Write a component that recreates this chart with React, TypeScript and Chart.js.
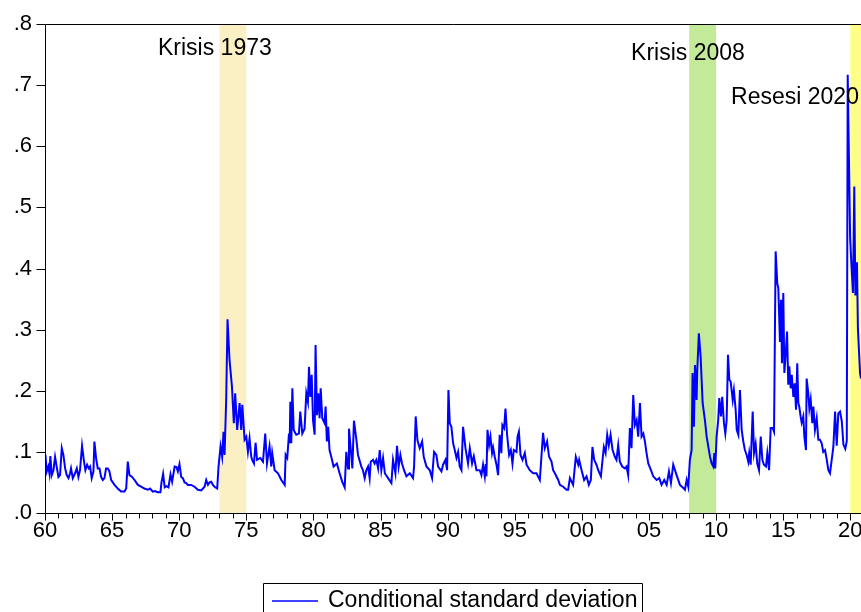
import React, { useEffect, useRef } from "react";
import { Chart, registerables } from "chart.js";

Chart.register(...registerables);

type P = [number, number];

// Conditional standard deviation (year, value)
const s1960: P[] = [
  [1960.03, 0.095], [1960.13, 0.068], [1960.25, 0.076], [1960.33, 0.065], [1960.4, 0.093], [1960.5, 0.062],
  [1960.63, 0.07], [1960.75, 0.092], [1960.87, 0.076], [1961.0, 0.059], [1961.12, 0.062], [1961.25, 0.106],
  [1961.37, 0.095], [1961.5, 0.073], [1961.62, 0.062], [1961.75, 0.057], [1961.87, 0.065], [1961.94, 0.073],
  [1962.07, 0.057], [1962.24, 0.065], [1962.37, 0.073], [1962.49, 0.059], [1962.61, 0.07], [1962.76, 0.11],
  [1962.89, 0.087], [1963.01, 0.07], [1963.14, 0.079], [1963.26, 0.073], [1963.36, 0.076], [1963.48, 0.057],
  [1963.61, 0.068], [1963.68, 0.117], [1963.81, 0.089], [1963.93, 0.073], [1964.06, 0.073], [1964.18, 0.059],
  [1964.31, 0.054], [1964.43, 0.057], [1964.55, 0.073], [1964.68, 0.073], [1964.8, 0.068], [1964.93, 0.054],
  [1965.18, 0.046], [1965.42, 0.04], [1965.67, 0.035], [1965.92, 0.035], [1966.05, 0.04], [1966.17, 0.084],
  [1966.29, 0.062], [1966.49, 0.059], [1966.67, 0.054], [1966.92, 0.046], [1967.16, 0.043], [1967.41, 0.04],
  [1967.66, 0.038], [1967.83, 0.04], [1968.03, 0.035], [1968.2, 0.036], [1968.4, 0.034], [1968.6, 0.034],
  [1968.68, 0.05], [1968.8, 0.064], [1968.92, 0.042], [1969.05, 0.044], [1969.2, 0.042], [1969.35, 0.063],
  [1969.47, 0.051], [1969.66, 0.076], [1969.8, 0.075], [1969.9, 0.068],
];

const s1970: P[] = [
  [1970.02, 0.08], [1970.15, 0.059], [1970.27, 0.057], [1970.4, 0.05], [1970.52, 0.049], [1970.64, 0.046],
  [1970.89, 0.046], [1971.14, 0.043], [1971.39, 0.038], [1971.64, 0.037], [1971.89, 0.043], [1972.01, 0.054],
  [1972.14, 0.046], [1972.26, 0.05], [1972.39, 0.051], [1972.51, 0.046], [1972.63, 0.043], [1972.83, 0.04],
  [1972.93, 0.076], [1973.08, 0.109], [1973.2, 0.092], [1973.3, 0.133], [1973.38, 0.095], [1973.5, 0.185],
  [1973.6, 0.317], [1973.75, 0.25], [1973.93, 0.207], [1974.07, 0.147], [1974.17, 0.196], [1974.32, 0.136],
  [1974.5, 0.18], [1974.62, 0.136], [1974.7, 0.177], [1974.87, 0.12], [1975.0, 0.125], [1975.12, 0.1],
  [1975.24, 0.122], [1975.37, 0.092], [1975.44, 0.087], [1975.57, 0.081], [1975.69, 0.115], [1975.8, 0.087],
  [1975.87, 0.087], [1976.04, 0.09], [1976.24, 0.084], [1976.41, 0.13], [1976.54, 0.081], [1976.73, 0.109],
  [1976.86, 0.076], [1976.93, 0.098], [1977.11, 0.07], [1977.36, 0.065], [1977.61, 0.054], [1977.86, 0.046],
  [1977.93, 0.095], [1978.05, 0.09], [1978.18, 0.13], [1978.23, 0.114], [1978.28, 0.182], [1978.35, 0.114],
  [1978.43, 0.204], [1978.53, 0.136], [1978.72, 0.128], [1978.92, 0.13], [1979.02, 0.166], [1979.17, 0.13],
  [1979.34, 0.138], [1979.47, 0.196], [1979.59, 0.182], [1979.67, 0.239], [1979.77, 0.19], [1979.87, 0.226],
  [1979.97, 0.152],
];

const s1980: P[] = [
  [1980.09, 0.128], [1980.16, 0.275], [1980.26, 0.16], [1980.36, 0.196], [1980.46, 0.155], [1980.54, 0.204],
  [1980.66, 0.155], [1980.83, 0.147], [1980.91, 0.174], [1981.0, 0.117], [1981.1, 0.141], [1981.2, 0.103],
  [1981.33, 0.092], [1981.5, 0.076], [1981.65, 0.079], [1981.75, 0.081], [1981.95, 0.065], [1982.15, 0.051],
  [1982.33, 0.042], [1982.45, 0.1], [1982.58, 0.073], [1982.65, 0.138], [1982.83, 0.092], [1982.9, 0.073],
  [1983.02, 0.151], [1983.2, 0.12], [1983.32, 0.095], [1983.45, 0.085], [1983.57, 0.076], [1983.69, 0.07],
  [1983.82, 0.057], [1983.94, 0.07], [1984.07, 0.076], [1984.19, 0.057], [1984.27, 0.084], [1984.44, 0.087],
  [1984.56, 0.081], [1984.69, 0.087], [1984.82, 0.073], [1984.94, 0.103], [1985.06, 0.07], [1985.19, 0.09],
  [1985.32, 0.065], [1985.56, 0.057], [1985.81, 0.049], [1985.93, 0.087], [1986.11, 0.065], [1986.23, 0.11],
  [1986.35, 0.076], [1986.48, 0.095], [1986.6, 0.081], [1986.75, 0.07], [1986.93, 0.06], [1987.18, 0.065],
  [1987.42, 0.057], [1987.5, 0.076], [1987.62, 0.158], [1987.75, 0.119], [1987.92, 0.106], [1988.1, 0.117],
  [1988.22, 0.092], [1988.42, 0.076], [1988.67, 0.07], [1988.84, 0.057], [1988.99, 0.1], [1989.16, 0.095],
  [1989.29, 0.076], [1989.54, 0.068], [1989.66, 0.079], [1989.84, 0.087], [1989.96, 0.07],
];

const s1990: P[] = [
  [1990.06, 0.201], [1990.16, 0.147], [1990.28, 0.141], [1990.41, 0.114], [1990.53, 0.103], [1990.66, 0.09],
  [1990.78, 0.1], [1990.9, 0.076], [1991.03, 0.07], [1991.15, 0.141], [1991.33, 0.106], [1991.52, 0.081],
  [1991.65, 0.106], [1991.82, 0.081], [1991.95, 0.093], [1992.15, 0.07], [1992.39, 0.07], [1992.52, 0.062],
  [1992.64, 0.079], [1992.77, 0.06], [1992.84, 0.08], [1992.89, 0.06], [1992.97, 0.136], [1993.09, 0.111],
  [1993.19, 0.125], [1993.31, 0.098], [1993.39, 0.107], [1993.51, 0.092], [1993.64, 0.079], [1993.76, 0.062],
  [1993.88, 0.128], [1994.0, 0.098], [1994.08, 0.144], [1994.21, 0.139], [1994.31, 0.171], [1994.43, 0.128],
  [1994.58, 0.095], [1994.71, 0.103], [1994.83, 0.081], [1994.93, 0.103], [1995.13, 0.1], [1995.21, 0.125],
  [1995.31, 0.133], [1995.43, 0.095], [1995.58, 0.087], [1995.75, 0.098], [1995.88, 0.079], [1996.12, 0.07],
  [1996.37, 0.065], [1996.62, 0.065], [1996.87, 0.054], [1997.11, 0.131], [1997.24, 0.106], [1997.41, 0.117],
  [1997.56, 0.092], [1997.74, 0.084], [1997.86, 0.07], [1997.99, 0.065], [1998.24, 0.054], [1998.36, 0.046],
  [1998.61, 0.043], [1998.86, 0.038], [1998.98, 0.038], [1999.11, 0.057], [1999.35, 0.046], [1999.55, 0.092],
  [1999.73, 0.079], [1999.8, 0.087], [1999.98, 0.07],
];

const s2000: P[] = [
  [2000.17, 0.054], [2000.35, 0.06], [2000.52, 0.046], [2000.67, 0.054], [2000.79, 0.108], [2000.92, 0.087],
  [2001.09, 0.079], [2001.22, 0.07], [2001.42, 0.06], [2001.64, 0.108], [2001.77, 0.098], [2001.89, 0.128],
  [2002.01, 0.111], [2002.14, 0.128], [2002.29, 0.103], [2002.46, 0.092], [2002.58, 0.087], [2002.71, 0.111],
  [2002.83, 0.084], [2003.01, 0.076], [2003.21, 0.073], [2003.33, 0.076], [2003.45, 0.062], [2003.58, 0.139],
  [2003.7, 0.106], [2003.83, 0.193], [2003.95, 0.144], [2004.08, 0.152], [2004.2, 0.125], [2004.33, 0.18],
  [2004.45, 0.125], [2004.58, 0.13], [2004.7, 0.117], [2004.82, 0.098], [2004.95, 0.081], [2005.15, 0.07],
  [2005.32, 0.06], [2005.57, 0.054], [2005.77, 0.057], [2005.94, 0.046], [2006.14, 0.054], [2006.32, 0.046],
  [2006.49, 0.068], [2006.64, 0.049], [2006.81, 0.079], [2007.06, 0.062], [2007.31, 0.046], [2007.56, 0.041],
  [2007.68, 0.038], [2007.81, 0.054], [2007.93, 0.043], [2008.05, 0.087], [2008.18, 0.103], [2008.25, 0.229],
  [2008.35, 0.141], [2008.43, 0.242], [2008.55, 0.185], [2008.6, 0.234], [2008.72, 0.294], [2008.85, 0.256],
  [2009.0, 0.18], [2009.17, 0.152], [2009.3, 0.125], [2009.42, 0.109], [2009.55, 0.092], [2009.67, 0.081],
  [2009.79, 0.076], [2009.87, 0.098], [2009.94, 0.073],
];

const s2010: P[] = [
  [2010.04, 0.125], [2010.16, 0.152], [2010.24, 0.188], [2010.37, 0.158], [2010.46, 0.19], [2010.59, 0.147],
  [2010.69, 0.13], [2010.79, 0.152], [2010.89, 0.259], [2010.99, 0.218], [2011.09, 0.215], [2011.24, 0.185],
  [2011.33, 0.201], [2011.46, 0.169], [2011.54, 0.136], [2011.66, 0.128], [2011.78, 0.201], [2011.91, 0.136],
  [2012.03, 0.117], [2012.15, 0.103], [2012.28, 0.095], [2012.4, 0.084], [2012.47, 0.098], [2012.58, 0.079],
  [2012.73, 0.166], [2012.83, 0.098], [2012.95, 0.113], [2013.07, 0.081], [2013.2, 0.07], [2013.33, 0.125],
  [2013.45, 0.087], [2013.57, 0.079], [2013.72, 0.076], [2013.82, 0.098], [2013.95, 0.07], [2014.07, 0.139],
  [2014.22, 0.139], [2014.32, 0.133], [2014.44, 0.428], [2014.56, 0.376], [2014.64, 0.368], [2014.76, 0.28],
  [2014.84, 0.349], [2014.91, 0.245], [2015.01, 0.36], [2015.09, 0.229], [2015.21, 0.267], [2015.29, 0.297],
  [2015.38, 0.21], [2015.46, 0.24], [2015.56, 0.204], [2015.64, 0.226], [2015.76, 0.19], [2015.86, 0.212],
  [2015.96, 0.169], [2016.05, 0.245], [2016.13, 0.18], [2016.2, 0.174], [2016.3, 0.158], [2016.38, 0.148],
  [2016.5, 0.158], [2016.58, 0.125], [2016.7, 0.103], [2016.75, 0.22], [2016.87, 0.196], [2016.95, 0.171],
  [2017.05, 0.186], [2017.17, 0.147], [2017.25, 0.174], [2017.37, 0.136], [2017.5, 0.155], [2017.62, 0.12],
  [2017.74, 0.12], [2017.87, 0.114], [2017.99, 0.1], [2018.12, 0.103], [2018.25, 0.087], [2018.37, 0.07],
  [2018.49, 0.065], [2018.74, 0.108], [2018.87, 0.166], [2018.99, 0.11], [2019.11, 0.163], [2019.24, 0.166],
  [2019.37, 0.15], [2019.49, 0.112], [2019.63, 0.105], [2019.74, 0.118], [2019.81, 0.717], [2019.99, 0.45],
];

const s2020: P[] = [
  [2020.1, 0.4], [2020.2, 0.36], [2020.3, 0.534], [2020.38, 0.356], [2020.5, 0.41], [2020.57, 0.302],
  [2020.73, 0.229], [2020.8, 0.22],
];

const seriesLabel = "Conditional standard deviation";

const crisisBands = [
  { from: 1973, to: 1975, color: "#FBF0C4" },
  { from: 2008, to: 2010, color: "#C3EA98" },
  { from: 2020, to: 2021, color: "#FFFF88" },
];

const crisisLabels = [
  { text: "Krisis 1973", year: 1968.42, value: 0.76 },
  { text: "Krisis 2008", year: 2003.67, value: 0.752 },
  { text: "Resesi 2020", year: 2011.12, value: 0.68 },
];

const xMin = 1960;
const xMax = 2020.8;
const yMin = 0;
const yMax = 0.8;

const FONT = '"Liberation Sans", Arial, sans-serif';

const decorPlugin = {
  id: "decor",
  beforeDatasetsDraw(chart: any) {
    const { ctx, chartArea: a, scales } = chart;
    const x = scales.x;
    ctx.save();
    for (const b of crisisBands) {
      const x0 = x.getPixelForValue(b.from);
      const x1 = Math.min(x.getPixelForValue(b.to), a.right);
      ctx.fillStyle = b.color;
      ctx.fillRect(x0, a.top, x1 - x0, a.bottom - a.top);
    }
    ctx.restore();
  },
  afterDatasetsDraw(chart: any) {
    const { ctx, chartArea: a, scales } = chart;
    const x = scales.x;
    const y = scales.y;
    ctx.save();
    ctx.fillStyle = "#000";
    ctx.font = `23px ${FONT}`;
    ctx.textBaseline = "middle";
    ctx.textAlign = "left";
    for (const l of crisisLabels) {
      ctx.fillText(l.text, x.getPixelForValue(l.year), y.getPixelForValue(l.value));
    }
    ctx.strokeStyle = "#000";
    ctx.lineWidth = 1;
    ctx.beginPath();
    const L = Math.round(a.left) + 0.5;
    const B = Math.round(a.bottom) + 0.5;
    const T = Math.round(a.top) + 0.5;
    ctx.moveTo(L, T);
    ctx.lineTo(L, B);
    ctx.lineTo(a.right + 1, B);
    ctx.moveTo(L, T);
    ctx.lineTo(a.right + 1, T);
    for (let i = 0; i <= 8; i++) {
      const py = Math.round(y.getPixelForValue(i / 10)) + 0.5;
      ctx.moveTo(L - 9, py);
      ctx.lineTo(L, py);
    }
    for (let yr = 1960; yr <= 2020; yr++) {
      const px = Math.round(x.getPixelForValue(yr)) + 0.5;
      const len = yr % 5 === 0 ? 7 : 5;
      ctx.moveTo(px, B);
      ctx.lineTo(px, B + len);
    }
    ctx.stroke();

    ctx.beginPath();
    ctx.rect(263.5, 583.5, 379, 40);
    ctx.stroke();
    ctx.strokeStyle = "#0000FF";
    ctx.lineWidth = 1.5;
    ctx.beginPath();
    ctx.moveTo(272, 601);
    ctx.lineTo(318, 601);
    ctx.stroke();
    ctx.fillStyle = "#000";
    ctx.font = `23px ${FONT}`;
    ctx.textBaseline = "middle";
    ctx.fillText(seriesLabel, 328, 601);
    ctx.restore();
  },
};

export default function App() {
  const ref = useRef<HTMLCanvasElement | null>(null);

  useEffect(() => {
    if (!ref.current) return;
    const points = [...s1960, ...s1970, ...s1980, ...s1990, ...s2000, ...s2010, ...s2020].map(
      ([x, y]) => ({ x, y })
    );
    const chart = new Chart(ref.current, {
      type: "line",
      data: {
        datasets: [
          {
            label: seriesLabel,
            data: points,
            borderColor: "#0000FF",
            backgroundColor: "#0000FF",
            borderWidth: 2,
            pointRadius: 0,
            tension: 0,
            fill: false,
          },
        ],
      },
      options: {
        animation: false,
        responsive: false,
        maintainAspectRatio: false,
        parsing: false as any,
        layout: { padding: { top: 24, right: 0, bottom: 0, left: 0 }, autoPadding: false },
        plugins: { legend: { display: false }, tooltip: { enabled: false } },
        scales: {
          x: {
            type: "linear",
            min: xMin,
            max: xMax,
            grid: { display: false, drawTicks: false },
            border: { display: false },
            ticks: {
              stepSize: 5,
              includeBounds: false,
              autoSkip: false,
              maxRotation: 0,
              padding: 5,
              color: "#000",
              font: { family: FONT, size: 22 },
              callback: (v: any) => String(Math.round(Number(v)) % 100).padStart(2, "0"),
            },
            afterFit: (s: any) => {
              s.height = 99;
              s.paddingLeft = 0;
              s.paddingRight = 0;
            },
          },
          y: {
            min: yMin,
            max: yMax,
            grid: { display: false, drawTicks: false },
            border: { display: false },
            ticks: {
              stepSize: 0.1,
              includeBounds: false,
              padding: 13,
              color: "#000",
              font: { family: FONT, size: 22 },
              callback: (v: any) => "." + Math.round(Number(v) * 10),
            },
            afterFit: (s: any) => {
              s.width = 45;
              s.paddingTop = 0;
              s.paddingBottom = 0;
            },
          },
        },
      },
      plugins: [decorPlugin],
    });
    return () => chart.destroy();
  }, []);

  return (
    <div style={{ position: "absolute", left: 0, top: 0, width: 861, height: 612, background: "#fff" }}>
      <canvas ref={ref} width={861} height={612} style={{ width: 861, height: 612, display: "block" }} />
    </div>
  );
}
